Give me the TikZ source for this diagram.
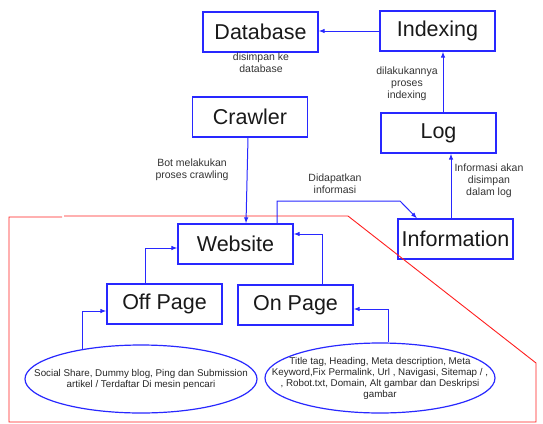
\documentclass[tikz,border=0pt]{standalone}
\usepackage{fontspec}
\setmainfont{Liberation Sans}
\usetikzlibrary{arrows.meta,shapes.geometric}
\definecolor{lineblue}{RGB}{40,40,255}
\definecolor{framered}{RGB}{255,30,30}
\begin{document}
\begin{tikzpicture}[x=1pt,y=-1pt,
 box/.style={draw=lineblue, line width=1.2pt, minimum width=115pt, minimum height=40pt, inner sep=0pt, font=\fontsize{21.5}{24}\selectfont, text=black!90},
 oval/.style={draw=lineblue, line width=1.2pt, ellipse, inner sep=0pt},
 ovaltext/.style={align=center, font=\fontsize{9.8}{11}\selectfont, text=black!85, inner sep=0pt},
 lbl/.style={align=center, font=\fontsize{10.5}{12}\selectfont, text=black!80, inner sep=0pt},
 arr/.style={draw=lineblue, line width=1pt, -{Latex[length=6pt,width=4.5pt]}},
 border/.style={draw=framered, line width=0.9pt}]
\useasboundingbox (0,0) rectangle (543,423);

% boxes
\node[box] (db) at (260.5,32) {Database};
\node[box] (idx) at (437.5,31) {Indexing};
\node[box] (crawl) at (250,117) {Crawler};
\node[box] (log) at (438.5,133) {Log};
\node[box] (info) at (455.5,239) {Information};
\node[box] (web) at (235.5,244) {Website};
\node[box] (off) at (164.5,304) {Off Page};
\node[box] (on) at (295.5,305) {On Page};

% red boundary
\draw[border] (64,216) -- (348,216) -- (536,363) -- (536,422) -- (9,422) -- (9,217) -- (62,217);

% ellipses
\node[oval, minimum width=232pt, minimum height=68pt] (ellL) at (141,379) {};
\node[ovaltext] (tL) at (ellL.center) {Social Share, Dummy blog, Ping dan Submission\\artikel / Terdaftar Di mesin pencari};
\node[oval, minimum width=230pt, minimum height=70pt] (ellR) at (380,378) {};
\node[ovaltext] (tR) at (ellR.center) {Title tag, Heading, Meta description, Meta\\Keyword,Fix Permalink, Url , Navigasi, Sitemap / ,\\, Robot.txt, Domain, Alt gambar dan Deskripsi\\gambar};

% labels
\node[lbl] (l1) at (261,63) {disimpan ke\\database};
\node[lbl] (l2) at (407,83.5) {dilakukannya\\proses\\indexing};
\node[lbl] (l3) at (192,170) {Bot melakukan\\proses crawling};
\node[lbl] (l4) at (335,183.5) {Didapatkan\\informasi};
\node[lbl] (l5) at (489,181) {Informasi akan\\disimpan\\dalam log};

% connectors
\draw[arr] (idx.west) -- (idx.west -| db.east);
\draw[arr] ([xshift=4.5pt]log.north) -- ([xshift=4.5pt]log.north |- idx.south);
\draw[arr] ([xshift=-4.5pt]info.north) -- ([xshift=-4.5pt]info.north |- log.south);
\draw[arr] ([xshift=-2pt]crawl.south) -- ([xshift=10.5pt]web.north);
\coordinate (bend) at (400,201);
\draw[arr] ([xshift=41.5pt]web.north) |- (bend) -- ([xshift=-38.5pt]info.north);
\draw[arr] ([xshift=-19.5pt]off.north) |- ([yshift=-4pt]web.west);
\draw[arr] ([xshift=26.5pt]on.north) |- ([yshift=10pt]web.east);
\draw[arr] (ellL.153) |- ([yshift=-7pt]off.west);
\draw[arr] (ellR.77) |- ([yshift=-4pt]on.east);
\end{tikzpicture}
\end{document}
